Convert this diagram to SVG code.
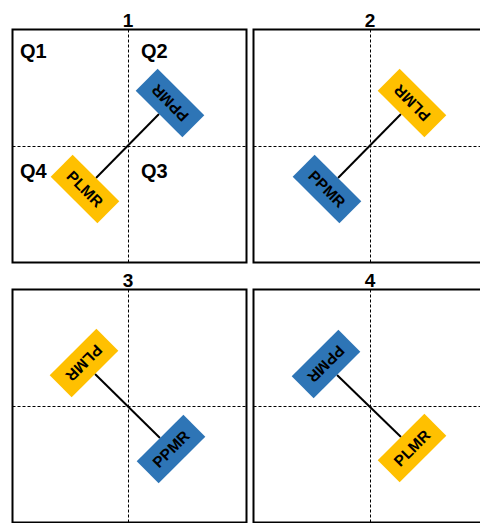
<svg xmlns="http://www.w3.org/2000/svg" width="480" height="523" viewBox="0 0 480 523">
  <style>
    .frame { fill: #fff; stroke: #000; stroke-width: 2; }
    .axis { stroke: #000; stroke-width: 1; stroke-dasharray: 3 2; fill: none; }
    .link { stroke: #000; stroke-width: 2; fill: none; }
    .title { font-family: "Liberation Sans", Arial, sans-serif; font-weight: bold; font-size: 19px; text-anchor: middle; fill: #000; }
    .quad { font-family: "Liberation Sans", Arial, sans-serif; font-weight: bold; font-size: 20px; fill: #000; }
    .box rect { stroke: none; }
    .ppmr rect { fill: #2E75B6; }
    .plmr rect { fill: #FFC000; }
    .box text { font-family: "Liberation Sans", Arial, sans-serif; font-weight: bold; font-size: 15.5px; text-anchor: middle; fill: #000; }
  </style>

  <rect width="480" height="523" fill="#fff"/>

  <!-- panel frames with dashed quadrant axes -->
  <g id="panel-1">
    <rect class="frame" x="12.5" y="29.5" width="234" height="233"/>
    <line class="axis" x1="128.5" y1="29.5" x2="128.5" y2="262.5"/>
    <line class="axis" x1="12.5" y1="146.5" x2="246.5" y2="146.5"/>
    <text class="title" x="128" y="27">1</text>
    <text class="quad" x="20" y="58">Q1</text>
    <text class="quad" x="141" y="58">Q2</text>
    <text class="quad" x="141" y="178">Q3</text>
    <text class="quad" x="20" y="178">Q4</text>
  </g>
  <g id="panel-2">
    <rect class="frame" x="253.5" y="29.5" width="234" height="233"/>
    <line class="axis" x1="370.5" y1="29.5" x2="370.5" y2="262.5"/>
    <line class="axis" x1="253.5" y1="146.5" x2="487.5" y2="146.5"/>
    <text class="title" x="370" y="27">2</text>
  </g>
  <g id="panel-3">
    <rect class="frame" x="12.5" y="289.5" width="234" height="233"/>
    <line class="axis" x1="128.5" y1="289.5" x2="128.5" y2="522.5"/>
    <line class="axis" x1="12.5" y1="406.5" x2="246.5" y2="406.5"/>
    <text class="title" x="128" y="287">3</text>
  </g>
  <g id="panel-4">
    <rect class="frame" x="253.5" y="289.5" width="234" height="233"/>
    <line class="axis" x1="370.5" y1="289.5" x2="370.5" y2="522.5"/>
    <line class="axis" x1="253.5" y1="406.5" x2="487.5" y2="406.5"/>
    <text class="title" x="370" y="287">4</text>
  </g>

  <!-- connectors between the paired boxes -->
  <g id="connectors">
    <line class="link" x1="159" y1="114" x2="96" y2="178"/>
    <line class="link" x1="401" y1="114" x2="338" y2="178"/>
    <line class="link" x1="95" y1="374" x2="160" y2="438"/>
    <line class="link" x1="337" y1="375" x2="401" y2="437"/>
  </g>

  <!-- panel 1 -->
  <g id="p1-ppmr" class="box ppmr" transform="translate(170,103) rotate(225)">
    <rect x="-33" y="-15.5" width="66" height="31"/>
    <text x="0" y="5.5">PPMR</text>
  </g>
  <g id="p1-plmr" class="box plmr" transform="translate(85,189) rotate(45)">
    <rect x="-33" y="-15.5" width="66" height="31"/>
    <text x="0" y="5.5">PLMR</text>
  </g>

  <!-- panel 2 -->
  <g id="p2-plmr" class="box plmr" transform="translate(412,103) rotate(225)">
    <rect x="-33" y="-15.5" width="66" height="31"/>
    <text x="0" y="5.5">PLMR</text>
  </g>
  <g id="p2-ppmr" class="box ppmr" transform="translate(327,189) rotate(45)">
    <rect x="-33" y="-15.5" width="66" height="31"/>
    <text x="0" y="5.5">PPMR</text>
  </g>

  <!-- panel 3 -->
  <g id="p3-plmr" class="box plmr" transform="translate(84,363) rotate(135)">
    <rect x="-33" y="-15.5" width="66" height="31"/>
    <text x="0" y="5.5">PLMR</text>
  </g>
  <g id="p3-ppmr" class="box ppmr" transform="translate(171,449) rotate(-45)">
    <rect x="-33" y="-15.5" width="66" height="31"/>
    <text x="0" y="5.5">PPMR</text>
  </g>

  <!-- panel 4 -->
  <g id="p4-ppmr" class="box ppmr" transform="translate(326,364) rotate(135)">
    <rect x="-33" y="-15.5" width="66" height="31"/>
    <text x="0" y="5.5">PPMR</text>
  </g>
  <g id="p4-plmr" class="box plmr" transform="translate(412,448) rotate(-45)">
    <rect x="-33" y="-15.5" width="66" height="31"/>
    <text x="0" y="5.5">PLMR</text>
  </g>
</svg>
